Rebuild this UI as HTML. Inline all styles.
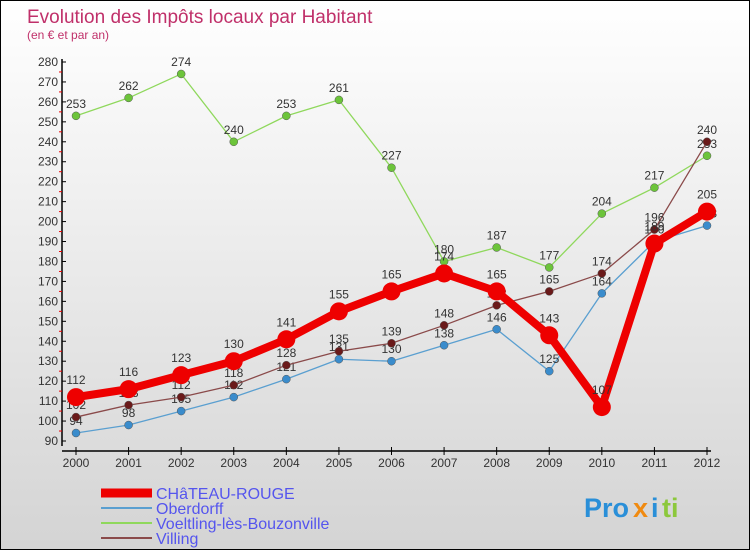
<!DOCTYPE html>
<html><head><meta charset="utf-8"><style>
body{margin:0}
#c{width:748px;height:548px;border:1px solid #000;background:linear-gradient(#fff,#d4d4d4);position:relative;font-family:"Liberation Sans",sans-serif}
</style></head><body>
<div id="c">
<svg id="s" width="748" height="548" style="position:absolute;left:0;top:0">
<text x="26" y="22" font-size="19" fill="#c0306a">Evolution des Impôts locaux par Habitant</text>
<text x="26" y="38" font-size="12" fill="#c0306a">(en € et par an)</text>
<g id="axes"></g><g id="series"></g><g id="legend"></g>
<g font-size="27" font-weight="bold">
<text x="583" y="516" fill="#2a8fd8">Pro</text><text x="632" y="516" fill="#f08a10">x</text><text x="650" y="516" fill="#2a8fd8">i</text><text x="661" y="516" fill="#8cc83c">ti</text>
</g>
</svg>
</div>
<script>
const years=[2000,2001,2002,2003,2004,2005,2006,2007,2008,2009,2010,2011,2012];
const chateau=[112,116,123,130,141,155,165,174,165,143,107,189,205];
const oberdorff=[94,98,105,112,121,131,130,138,146,125,164,190,198];
const voeltling=[253,262,274,240,253,261,227,180,187,177,204,217,233];
const villing=[102,108,112,118,128,135,139,148,158,165,174,196,240];
const yTicks=[90,100,110,120,130,140,150,160,170,180,190,200,210,220,230,240,250,260,270,280];
const seriesNames=["CHâTEAU-ROUGE","Oberdorff","Voeltling-lès-Bouzonville","Villing"];
const NS="http://www.w3.org/2000/svg";
const X=i=>75+i*(631/12);
const Y=v=>440-(v-90)*(379/190);
function mk(p,t,a){const e=document.createElementNS(NS,t);for(const k in a)e.setAttribute(k,a[k]);p.appendChild(e);return e;}
const ax=document.getElementById('axes');
const yl=mk(ax,'line',{x1:61,y1:58,x2:61,y2:445,stroke:'#000','stroke-width':1.5});


const xl=mk(ax,'line',{x1:61,y1:450,x2:710,y2:450,stroke:'#000','stroke-width':1.5});


yTicks.forEach(v=>{
 mk(ax,'line',{x1:61,y1:Y(v),x2:65,y2:Y(v),stroke:'#000'});
 if(v<280)mk(ax,'line',{x1:58,y1:Y(v+5),x2:61,y2:Y(v+5),stroke:'#e00'});
 const t=mk(ax,'text',{x:57,y:Y(v)+4,'font-size':12,fill:'#333','text-anchor':'end'});t.textContent=v;
 
 
});
years.forEach((y,i)=>{
 mk(ax,'line',{x1:X(i),y1:446,x2:X(i),y2:454,stroke:'#000'});
 const t=mk(ax,'text',{x:X(i),y:466,'font-size':12,fill:'#333','text-anchor':'middle'});t.textContent=y;
 
 
});
const sg=document.getElementById('series');
const defs=[[voeltling,'#8fd85c','#6cc43a',1.3,4,'voeltling'],[oberdorff,'#5a9fd0','#3a8ccc',1.3,4,'oberdorff'],[villing,'#8a4a4a','#6a1a1a',1.3,4,'villing'],[chateau,'#ee0000','#ee0000',8,9,'chateau-rouge']];
defs.forEach(([d,lc,pc,w,r,n])=>{
 const g=mk(sg,'g',{});
 
 
 mk(g,'polyline',{points:d.map((v,i)=>X(i)+','+Y(v)).join(' '),fill:'none',stroke:lc,'stroke-width':w,'stroke-linejoin':'round'});
 d.forEach((v,i)=>{
  const c=mk(g,'circle',{cx:X(i),cy:Y(v),r:r,fill:pc,stroke:r>5?'none':'#555','stroke-width':0.5});
  
  
  const t=mk(g,'text',{x:X(i),y:Y(v)-(r>5?13:8),'font-size':12,fill:'#333','text-anchor':'middle'});t.textContent=v;
  
  
 });
});
const lg=document.getElementById('legend');
const lc=[['#ee0000',9],['#5a9fd0',2],['#8fd85c',2],['#8a4a4a',2]];
seriesNames.forEach((n,i)=>{
 const y=492+i*15;
 const g=mk(lg,'g',{});
 
 
 mk(g,'line',{x1:100,y1:y,x2:151,y2:y,stroke:lc[i][0],'stroke-width':lc[i][1]});
 const t=mk(g,'text',{x:155,y:y+6,'font-size':16,fill:'#5555ee'});t.textContent=n;
});
</script>
</body></html>
